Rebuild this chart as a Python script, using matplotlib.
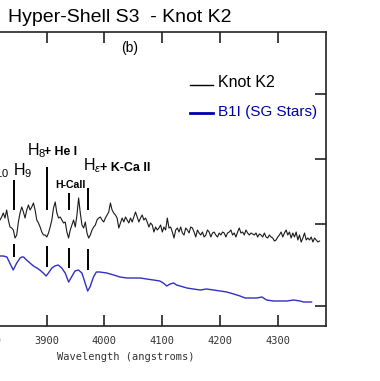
import numpy as np
import matplotlib.pyplot as plt
from matplotlib.lines import Line2D

plt.rcParams['mathtext.fontset'] = 'custom'
plt.rcParams['mathtext.rm'] = 'Liberation Sans'
plt.rcParams['mathtext.it'] = 'Liberation Sans:italic'
plt.rcParams['mathtext.bf'] = 'Liberation Sans:bold'

# Knot K2 spectrum, sampled every 2.9 A from 3819 A (relative flux)
k2_start = 3819.0
k2_step = 2.9
flux_k2 = [
    1.06, 1.09, 1.13, 1.08, 1.16, 1.06, 0.99, 0.98, 0.96, 0.88,
    0.91, 1.04, 1.13, 1.19, 1.14, 1.08, 1.16, 1.21, 1.16, 1.19,
    1.23, 1.16, 1.06, 1.03, 0.99, 0.94, 0.91, 0.91, 0.89, 0.93,
    0.99, 1.06, 1.18, 1.24, 1.13, 1.08, 1.09, 1.06, 1.03, 1.04,
    0.94, 0.88, 0.96, 1.01, 1.06, 0.99, 1.11, 1.28, 1.13, 1.01,
    0.98, 1.04, 0.93, 0.88, 0.91, 0.96, 0.99, 1.01, 1.06, 1.08,
    1.09, 1.06, 1.04, 1.08, 1.11, 1.14, 1.23, 1.16, 1.13, 1.11,
    1.08, 0.98, 1.03, 1.08, 1.04, 1.09, 1.06, 1.03, 1.08, 1.04,
    1.09, 1.14, 1.09, 1.04, 1.08, 1.11, 1.06, 1.08, 1.04, 0.99,
    1.03, 1.01, 0.94, 0.99, 0.96, 0.98, 1.01, 0.94, 0.99, 0.96,
    1.08, 0.98, 0.99, 0.94, 0.88, 0.96, 0.98, 0.94, 0.99, 0.93,
    0.91, 0.98, 0.96, 0.93, 0.99, 0.98, 0.94, 0.89, 0.96, 0.93,
    0.91, 0.94, 0.89, 0.91, 0.96, 0.94, 0.89, 0.93, 0.94, 0.91,
    0.89, 0.93, 0.91, 0.94, 0.93, 0.89, 0.93, 0.94, 0.96, 0.91,
    0.93, 0.89, 0.94, 0.98, 0.93, 0.94, 0.91, 0.96, 0.93, 0.91,
    0.93, 0.92, 0.91, 0.93, 0.89, 0.92, 0.91, 0.89, 0.93, 0.89,
    0.88, 0.91, 0.89, 0.88, 0.85, 0.86, 0.89, 0.91, 0.94, 0.89,
    0.93, 0.96, 0.91, 0.94, 0.88, 0.93, 0.89, 0.94, 0.86, 0.91,
    0.84, 0.88, 0.93, 0.86, 0.88, 0.86, 0.89, 0.84, 0.88, 0.86,
    0.84, 0.85,
]
wl_k2 = k2_start + k2_step * np.arange(len(flux_k2))

# B1I supergiant template
wl_b1 = [3819, 3825, 3831, 3836, 3842, 3848, 3854, 3857, 3860, 3865,
         3871, 3877, 3883, 3888, 3894, 3899, 3903, 3909, 3914, 3920,
         3926, 3932, 3938, 3943, 3949, 3955, 3961, 3966, 3971, 3975,
         3981, 3986, 3992, 4004, 4016, 4027, 4039, 4050, 4062, 4073,
         4085, 4096, 4102, 4108, 4114, 4120, 4125, 4131, 4143, 4154,
         4166, 4177, 4189, 4201, 4212, 4224, 4235, 4244, 4253, 4264,
         4273, 4281, 4293, 4305, 4316, 4328, 4339, 4345, 4351, 4359]
flux_b1 = [0.70, 0.70, 0.69, 0.63, 0.56, 0.63, 0.68, 0.69, 0.69, 0.66,
           0.63, 0.60, 0.58, 0.56, 0.53, 0.50, 0.53, 0.58, 0.60, 0.61,
           0.58, 0.53, 0.44, 0.49, 0.55, 0.56, 0.53, 0.44, 0.35, 0.39,
           0.49, 0.54, 0.54, 0.53, 0.51, 0.49, 0.48, 0.48, 0.48, 0.47,
           0.46, 0.45, 0.43, 0.40, 0.42, 0.43, 0.41, 0.40, 0.38, 0.37,
           0.36, 0.37, 0.36, 0.35, 0.34, 0.32, 0.30, 0.28, 0.28, 0.28,
           0.29, 0.26, 0.25, 0.25, 0.25, 0.26, 0.25, 0.24, 0.24, 0.24]

# line identifications
line_wl = [3843, 3900, 3939, 3972]
upper_top = [1.46, 1.59, 1.33, 1.38]
upper_bot = [1.16, 1.16, 1.16, 1.16]
lower_top = [0.82, 0.80, 0.78, 0.77]
lower_bot = [0.69, 0.59, 0.58, 0.56]

xticks = [3800, 3900, 4000, 4100, 4200, 4300]
right_ticks = [0.20, 1.02, 1.67, 2.32]

W, H = 380, 381
fig = plt.figure(figsize=(W / 100, H / 100), dpi=100)


def fx(px):
    return px / W


def fy(py):
    return 1 - py / H


# axes run off the left edge, like the cropped original
ax = fig.add_axes([fx(-39.85), fy(326), (325.7 + 39.85) / W, (326 - 32.3) / H])
ax.set_xlim(3750, 4383.5)
ax.set_ylim(0, 2.937)

ax.plot(wl_k2, flux_k2, color='#1a1a1a', lw=0.8)
ax.plot(wl_b1, flux_b1, color='#3030c4', lw=1.0)
ax.vlines(line_wl, upper_bot, upper_top, color='black', lw=1.4)
ax.vlines(line_wl, lower_bot, lower_top, color='black', lw=1.4)

for s in ax.spines.values():
    s.set_color('#222222')
    s.set_linewidth(1.2)

ax.set_xticks(xticks)
ax.tick_params(axis='x', direction='in', length=8, width=1.2, top=True,
               pad=7, labelsize=7.5, labelcolor='#333333', color='#222222')
for lab in ax.get_xticklabels():
    lab.set_family('DejaVu Sans Mono')
ax.set_yticks(right_ticks)
ax.tick_params(axis='y', direction='in', length=8, width=1.2, left=False,
               right=True, labelleft=False, color='#222222')

fig.text(fx(125.5), fy(356.7), 'Wavelength (angstroms)', family='DejaVu Sans Mono',
         fontsize=7.5, color='#333333', ha='center', va='center')

fig.text(fx(8.3), fy(21.7), 'Hyper-Shell S3  - Knot K2', family='Liberation Sans',
         fontsize=14, ha='left', va='baseline')
fig.text(fx(130), fy(48.3), '(b)', family='Liberation Sans', fontsize=10,
         ha='center', va='center')

# legend
fig.add_artist(Line2D([fx(190), fx(213)], [fy(85), fy(85)], color='black', lw=1.0))
fig.add_artist(Line2D([fx(190), fx(213)], [fy(112.7), fy(112.7)], color='#0000aa', lw=2.0))
fig.text(fx(218), fy(87.3), 'Knot K2', family='Liberation Sans', fontsize=11.5,
         ha='left', va='baseline')
fig.text(fx(218), fy(116), 'B1I (SG Stars)', family='Liberation Sans', fontsize=11,
         color='#0000aa', ha='left', va='baseline')

# line labels
big = dict(family='Liberation Sans', fontsize=11.5, va='baseline')
small = dict(family='Liberation Sans', fontweight='bold', va='baseline', ha='left')
fig.text(fx(9.5), fy(175), r'H$_{10}$', ha='right', **big)
fig.text(fx(12.7), fy(175), r'H$_{9}$', ha='left', **big)
fig.text(fx(26.7), fy(155), r'H$_{8}$', ha='left', **big)
fig.text(fx(44.5), fy(155), '+ He I', fontsize=8.8, **small)
fig.text(fx(55), fy(188.3), 'H-CaII', fontsize=7.6, **small)
fig.text(fx(82.7), fy(170), r'H$_{\epsilon}$', ha='left', **big)
fig.text(fx(99.5), fy(170.7), '+ K-Ca II', fontsize=9, **small)

fig.savefig('out.png', dpi=100)
